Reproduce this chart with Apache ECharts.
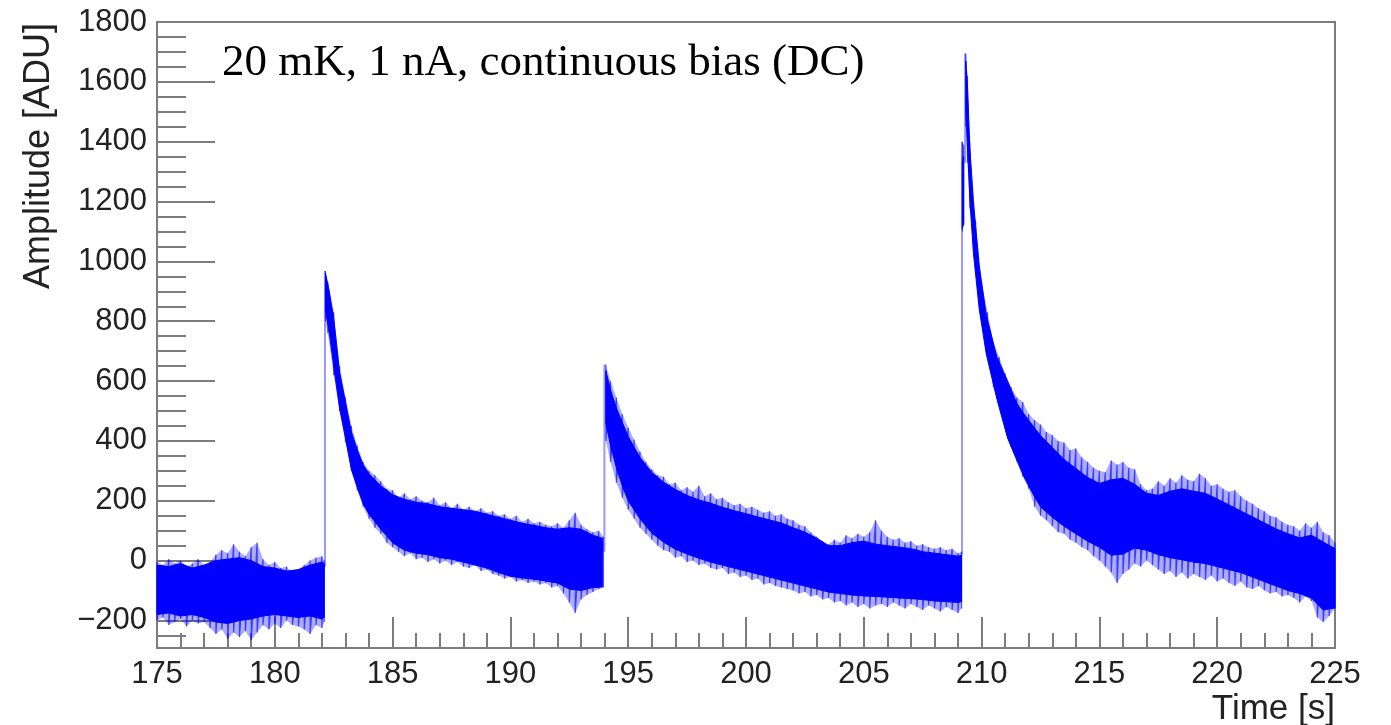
<!DOCTYPE html>
<html>
<head>
<meta charset="utf-8">
<title>TES pulse trace</title>
<script src="https://cdn.jsdelivr.net/npm/echarts@6/dist/echarts.min.js"></script>
<style>
  html, body { margin: 0; padding: 0; background: #ffffff; }
  #chart { width: 1391px; height: 725px; }
</style>
</head>
<body>
<div id="chart"></div>
<script>
// Amplitude trace, 20 mK, 1 nA, DC bias. Each segment (baseline and the three pulses)
// is described by the envelope of the noise: the dense core band and the outer spike
// extremes. Segments are separated by null entries.

// --- dense core of the noise band [ADU]
const coreTime = [
  175.0, 175.5, 176.0, 176.5, 177.0, 177.5, 178.0, 178.5, 179.0, 179.5, 180.0, 180.5, 181.0, 181.5, 182.0, 182.1,
  null,
  182.15, 182.3, 182.5, 182.75, 183.0, 183.25, 183.5, 183.75, 184.0, 184.5, 185.0, 185.5, 186.0, 186.5, 187.0,
  187.5, 188.0, 188.5, 189.0, 189.5, 190.0, 190.5, 191.0, 191.5, 192.0, 192.5, 193.0, 193.5, 193.9,
  null,
  194.05, 194.25, 194.5, 194.75, 195.0, 195.5, 196.0, 196.5, 197.0, 197.5, 198.0, 198.5, 199.0, 199.5, 200.0,
  200.5, 201.0, 201.5, 202.0, 202.5, 203.0, 203.5, 204.0, 204.5, 205.0, 205.5, 206.0, 206.5, 207.0, 207.5,
  208.0, 208.5, 209.0, 209.15,
  null,
  209.18, 209.24,
  null,
  209.33, 209.4, 209.5, 209.65, 209.9, 210.2, 210.65, 211.1, 211.5, 211.8, 212.2, 212.5, 213.0, 213.5, 214.0,
  214.5, 215.0, 215.5, 216.0, 216.5, 217.0, 217.5, 218.0, 218.5, 219.0, 219.5, 220.0, 220.5, 221.0, 221.5,
  222.0, 222.5, 223.0, 223.5, 224.0, 224.5, 225.0
];
const coreHigh = [
  -15, -20, -10, -25, -15, 0, 5, 10, 0, -20, -25, -35, -30, -15, -5, -10,
  null,
  960, 905, 810, 630, 530, 430, 370, 320, 290, 250, 220, 205, 195, 190, 180,
  175, 170, 165, 155, 145, 135, 125, 118, 110, 105, 110, 105, 85, 75,
  null,
  635, 570, 510, 462, 415, 345, 295, 262, 238, 218, 203, 192, 178, 167, 157,
  146, 136, 126, 110, 95, 75, 50, 50, 60, 65, 55, 50, 45, 40, 30,
  25, 20, 15, 18,
  null,
  1330, 1350,
  null,
  1670, 1590, 1380, 1200, 985, 820, 680, 600, 525, 490, 448, 418, 378, 338, 308,
  278, 258, 270, 275, 255, 225, 218, 232, 240, 232, 225, 206, 186, 166, 146,
  126, 106, 90, 76, 85, 62, 40
];
const coreLow = [
  -180, -175, -185, -180, -190, -205, -210, -200, -195, -185, -180, -185, -190, -185, -195, -190,
  null,
  835, 770, 650, 510, 410, 305, 245, 190, 155, 105, 60, 35, 25, 20, 10,
  5, -5, -15, -25, -40, -52, -58, -62, -68, -75, -95, -100, -90, -88,
  null,
  460, 385, 310, 250, 200, 140, 92, 62, 38, 22, 8, -5, -15, -25, -35,
  -45, -55, -65, -75, -85, -95, -105, -110, -115, -118, -120, -122, -125, -127, -130,
  -135, -137, -140, -137,
  null,
  1110, 1130,
  null,
  1505, 1385, 1210, 1030, 840, 690, 540, 410, 335, 280, 220, 180, 145, 115, 90,
  65, 45, 18, 22, 42, 35, 20, 10, 3, -5, -10, -20, -30, -40, -55,
  -70, -85, -100, -110, -125, -165, -158
];

// --- outer extremes of the noise (spikes) [ADU]
const spikeTime = [
  175.0, 175.25, 175.5, 175.75, 176.0, 176.25, 176.5, 176.75, 177.0, 177.25, 177.5, 177.75, 178.0, 178.25, 178.5,
  178.75, 179.0, 179.25, 179.5, 179.75, 180.0, 180.25, 180.5, 180.75, 181.0, 181.25, 181.5, 181.75, 182.0, 182.1,
  null,
  182.15, 182.25, 182.5, 182.75, 183.0, 183.25, 183.5, 183.75, 184.0, 184.25, 184.5, 184.75, 185.0, 185.25, 185.5,
  185.75, 186.0, 186.25, 186.5, 186.75, 187.0, 187.25, 187.5, 187.75, 188.0, 188.25, 188.5, 188.75, 189.0, 189.25,
  189.5, 189.75, 190.0, 190.25, 190.5, 190.75, 191.0, 191.25, 191.5, 191.75, 192.0, 192.25, 192.5, 192.75, 193.0,
  193.25, 193.5, 193.75, 193.95,
  null,
  194.05, 194.25, 194.5, 194.75, 195.0, 195.25, 195.5, 195.75, 196.0, 196.25, 196.5, 196.75, 197.0, 197.25, 197.5,
  197.75, 198.0, 198.25, 198.5, 198.75, 199.0, 199.25, 199.5, 199.75, 200.0, 200.25, 200.5, 200.75, 201.0, 201.25,
  201.5, 201.75, 202.0, 202.25, 202.5, 202.75, 203.0, 203.25, 203.5, 203.75, 204.0, 204.25, 204.5, 204.75, 205.0,
  205.25, 205.5, 205.75, 206.0, 206.25, 206.5, 206.75, 207.0, 207.25, 207.5, 207.75, 208.0, 208.25, 208.5, 208.75,
  209.0, 209.15,
  null,
  209.18, 209.24,
  null,
  209.33, 209.4, 209.5, 209.75, 210.0, 210.25, 210.5, 210.75, 211.0, 211.25, 211.5, 211.75, 212.0, 212.25, 212.5,
  212.75, 213.0, 213.25, 213.5, 213.75, 214.0, 214.25, 214.5, 214.75, 215.0, 215.25, 215.5, 215.75, 216.0, 216.25,
  216.5, 216.75, 217.0, 217.25, 217.5, 217.75, 218.0, 218.25, 218.5, 218.75, 219.0, 219.25, 219.5, 219.75, 220.0,
  220.25, 220.5, 220.75, 221.0, 221.25, 221.5, 221.75, 222.0, 222.25, 222.5, 222.75, 223.0, 223.25, 223.5, 223.75,
  224.0, 224.25, 224.5, 224.75, 225.0
];
const spikeHigh = [
  -5, -15, 5, -10, 0, -20, -10, 5, -15, -5, 20, 35, 25, 55, 30,
  15, 45, 60, 5, -15, -5, -25, -20, -45, -30, -15, 0, 10, 15, 0,
  null,
  968, 930, 830, 650, 545, 450, 385, 330, 300, 285, 265, 240, 235, 210, 225,
  205, 215, 200, 195, 210, 185, 195, 175, 190, 170, 180, 165, 175, 160, 165,
  150, 155, 140, 150, 130, 140, 125, 130, 120, 115, 125, 110, 135, 160, 120,
  105, 95, 100, 80,
  null,
  655, 600, 545, 490, 445, 405, 365, 330, 305, 285, 280, 255, 260, 235, 245,
  230, 250, 215, 225, 205, 210, 195, 185, 190, 175, 180, 170, 160, 165, 150,
  155, 140, 135, 120, 115, 95, 80, 65, 55, 70, 60, 85, 75, 90, 80,
  95, 135, 100, 80, 70, 75, 60, 65, 50, 55, 45, 40, 45, 35, 40,
  25, 30,
  null,
  1400, 1390,
  null,
  1695, 1620, 1400, 1130, 930, 830, 730, 680, 625, 580, 545, 530, 490, 470, 455,
  430, 420, 400, 395, 370, 375, 345, 330, 310, 300, 295, 335, 320, 330, 310,
  305, 255, 235, 240, 265, 250, 275, 260, 285, 270, 265, 290, 275, 250, 255,
  240, 230, 235, 215, 200, 190, 175, 165, 150, 145, 130, 120, 115, 100, 125,
  110, 130, 95, 85, 60
];
const spikeLow = [
  -200, -190, -215, -205, -195, -220, -200, -210, -205, -225, -245, -230, -262, -240, -255,
  -235, -265, -240, -215, -230, -210, -225, -200, -215, -220, -230, -245, -215, -225, -205,
  null,
  800, 760, 620, 500, 395, 300, 235, 180, 140, 110, 90, 60, 45, 30, 15,
  25, 5, 10, -5, 5, -10, 0, -15, -5, -20, -25, -15, -35, -30, -45,
  -50, -60, -55, -70, -65, -75, -70, -80, -75, -90, -85, -110, -140, -175, -130,
  -115, -105, -95, -90,
  null,
  400, 330, 260, 210, 170, 140, 110, 90, 70, 50, 35, 30, 10, 15, -5,
  0, -15, -10, -25, -30, -25, -45, -40, -55, -50, -65, -60, -80, -75, -85,
  -90, -95, -100, -110, -105, -120, -115, -130, -125, -140, -135, -150, -140, -155, -145,
  -160, -150, -145, -155, -140, -150, -160, -145, -155, -165, -150, -160, -170, -155, -165,
  -175, -160,
  null,
  1100, 1120,
  null,
  1450, 1330, 1180, 960, 800, 690, 580, 520, 450, 380, 330, 280, 240, 180, 150,
  135, 115, 95, 90, 70, 60, 45, 35, 15, 0, -20, -40, -75, -45, -30,
  -10, -20, 0, -15, -30, -45, -35, -55, -40, -60, -45, -55, -65, -50, -70,
  -60, -75, -85, -70, -90, -95, -85, -100, -110, -105, -120, -115, -125, -140, -120,
  -135, -190, -205, -185, -160
];

// --- fast rising edges (single-sample jumps) [s], [ADU]
const riseTime = [182.13, 193.99, 209.17, 209.30];
const riseFrom = [-20, 30, 20, 1330];
const riseTo = [968, 655, 1400, 1695];

// --- axis ticks
const yMajorTicks = [-200, 0, 200, 400, 600, 800, 1000, 1200, 1400, 1600, 1800];
const yMinorTicks = [-250, -150, -100, -50, 50, 100, 150, 250, 300, 350, 450, 500, 550, 650, 700, 750,
  850, 900, 950, 1050, 1100, 1150, 1250, 1300, 1350, 1450, 1500, 1550, 1650, 1700, 1750];

const annotation = '20 mK, 1 nA, continuous bias (DC)';

// ---- helpers
// split null-separated arrays into continuous segments
function splitSegments(times, lows, highs) {
  const segs = [];
  let cur = null;
  times.forEach((t, i) => {
    if (t === null) { cur = null; return; }
    if (!cur) { cur = { t: [], lo: [], hi: [] }; segs.push(cur); }
    cur.t.push(t); cur.lo.push(lows[i]); cur.hi.push(highs[i]);
  });
  return segs;
}
const coreSegs = splitSegments(coreTime, coreLow, coreHigh);
const spikeSegs = splitSegments(spikeTime, spikeLow, spikeHigh);

// one custom item per segment: [start time, end time, segment index]
const segItems = segs => segs.map((s, k) => [s.t[0], s.t[s.t.length - 1], k]);

function bandRenderer(segs, style) {
  return function (params, api) {
    const s = segs[api.value(2)];
    const pts = [];
    for (let i = 0; i < s.t.length; i++) pts.push(api.coord([s.t[i], s.hi[i]]));
    for (let i = s.t.length - 1; i >= 0; i--) pts.push(api.coord([s.t[i], s.lo[i]]));
    return { type: 'polygon', shape: { points: pts }, style: style, silent: true };
  };
}

// noise needles: vertical strokes between spike extremes, joined sample to sample
const spikeTrace = [];
spikeTime.forEach((t, i) => {
  if (t === null) { spikeTrace.push([null, null]); return; }
  spikeTrace.push([t, spikeHigh[i]], [t, spikeLow[i]]);
});

const riseData = [];
riseTime.forEach((t, i) => {
  riseData.push([t, riseFrom[i]], [t, riseTo[i]], [null, null]);
});

const GRAY = '#7c7c7c';
const SANS = '"Liberation Sans", Arial, Helvetica, sans-serif';
const BLUE = '#0000ff';
const fmtTick = v => String(v).replace('-', '\u2212');

const chart = echarts.init(document.getElementById('chart'), null, { renderer: 'canvas' });

chart.setOption({
  animation: false,
  backgroundColor: '#ffffff',
  title: {
    text: annotation,
    left: 222,
    top: 41,
    padding: 0,
    textStyle: {
      fontFamily: '"Liberation Serif", "Times New Roman", serif',
      fontSize: 45,
      fontWeight: 'normal',
      color: '#000000'
    }
  },
  grid: {
    left: 157, right: 56, top: 22, bottom: 77,
    show: true,
    borderColor: GRAY,
    borderWidth: 2,
    backgroundColor: 'transparent',
    containLabel: false,
    outerBoundsMode: 'none'
  },
  xAxis: {
    type: 'value',
    min: 175,
    max: 225,
    interval: 5,
    name: 'Time [s]',
    nameLocation: 'end',
    nameGap: 0,
    nameTextStyle: {
      fontFamily: SANS, fontSize: 35, color: '#222222',
      align: 'right', verticalAlign: 'top', padding: [44, 0, 0, 0]
    },
    axisLine: { show: true, onZero: false, lineStyle: { color: GRAY, width: 2 } },
    axisTick: { show: true, inside: true, length: 31, lineStyle: { color: GRAY, width: 2 } },
    minorTick: { show: true, splitNumber: 5, length: 15, lineStyle: { color: GRAY, width: 2 } },
    axisLabel: { fontFamily: SANS, fontSize: 31, color: '#222222', margin: 11, formatter: fmtTick },
    splitLine: { show: false }
  },
  yAxis: [
    {
      type: 'value',
      min: -292,
      max: 1800,
      position: 'left',
      name: 'Amplitude [ADU]',
      nameLocation: 'end',
      nameRotate: 90,
      nameGap: -1,
      nameTextStyle: {
        fontFamily: SANS, fontSize: 36, color: '#222222',
        align: 'right', verticalAlign: 'bottom', padding: [0, 0, 100, 0]
      },
      axisLine: { show: true, onZero: false, lineStyle: { color: GRAY, width: 2 } },
      axisTick: { show: true, inside: true, length: 58, customValues: yMajorTicks, lineStyle: { color: GRAY, width: 2 } },
      axisLabel: { fontFamily: SANS, fontSize: 31, color: '#222222', margin: 10, customValues: yMajorTicks, formatter: fmtTick },
      splitLine: { show: false }
    },
    {
      type: 'value',
      min: -292,
      max: 1800,
      position: 'left',
      offset: 0,
      axisLine: { show: false },
      axisTick: { show: true, inside: true, length: 29, customValues: yMinorTicks, lineStyle: { color: GRAY, width: 2 } },
      axisLabel: { show: false },
      splitLine: { show: false }
    }
  ],
  series: [
    {
      name: 'rise',
      type: 'line',
      data: riseData,
      showSymbol: false,
      symbol: 'none',
      silent: true,
      connectNulls: false,
      z: 1,
      lineStyle: { color: 'rgba(70,70,255,0.55)', width: 2 }
    },
    {
      name: 'spike-envelope',
      type: 'custom',
      data: segItems(spikeSegs),
      encode: { x: [0, 1] },
      renderItem: bandRenderer(spikeSegs, { fill: 'rgba(0,0,255,0.33)' }),
      silent: true,
      z: 2
    },
    {
      name: 'spikes',
      type: 'line',
      data: spikeTrace,
      showSymbol: false,
      symbol: 'none',
      silent: true,
      connectNulls: false,
      z: 3,
      lineStyle: { color: 'rgba(0,0,255,0.65)', width: 1.2 }
    },
    {
      name: 'core',
      type: 'custom',
      data: segItems(coreSegs),
      encode: { x: [0, 1] },
      renderItem: bandRenderer(coreSegs, { fill: BLUE, stroke: BLUE, lineWidth: 1 }),
      silent: true,
      z: 4
    }
  ]
});
</script>
</body>
</html>
